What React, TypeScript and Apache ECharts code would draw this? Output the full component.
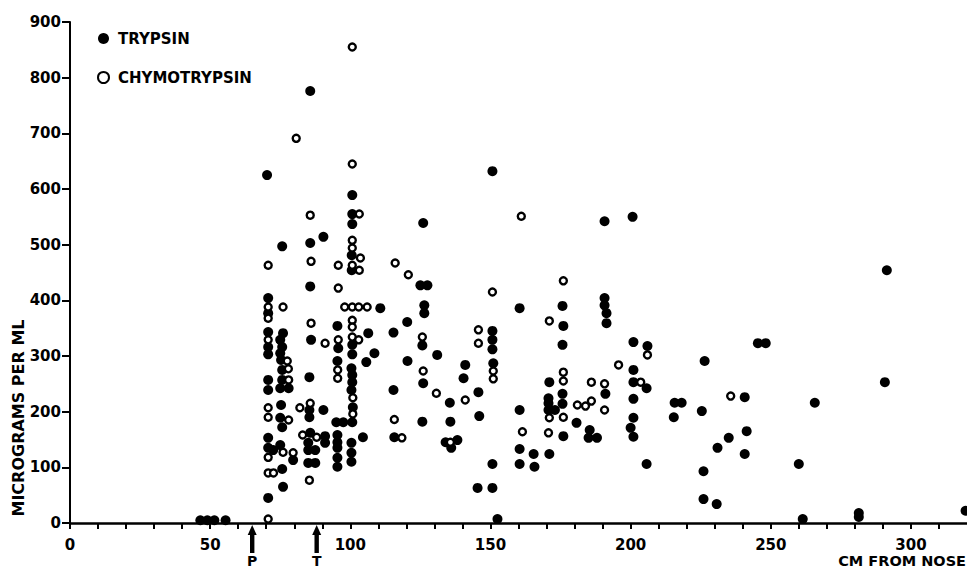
import React, { useEffect, useRef } from "react";
import * as echarts from "echarts";

// cm from nose, micrograms per ml
const trypsin: [number, number][] = [
  [46.5, 5], [49, 5], [51.5, 5], [55.5, 5],
  [70.3, 625], [70.7, 404], [70.7, 377], [70.7, 343], [70.7, 316], [70.7, 303], [70.7, 257], [70.7, 239], [70.7, 153], [70.7, 135], [70.7, 45],
  [76, 341], [75, 329], [75.7, 316], [75, 305], [75.3, 293], [75.7, 275], [75.7, 257], [75, 242], [78, 242], [75.3, 212], [75, 189], [75.7, 497], [75.7, 172], [72.5, 131], [75, 140], [75.7, 97], [76, 65],
  [85.7, 776], [90.4, 514], [85.7, 503], [85.7, 425], [86, 329], [85.4, 262], [85.4, 203], [85.4, 190], [90.4, 203], [85.7, 162], [91, 156], [91, 144], [85, 144], [85, 131], [87.5, 131], [85, 108], [87.5, 108], [79.6, 113],
  [95.4, 354], [95.7, 314], [95.4, 291], [95, 181], [97.5, 181], [100.7, 181], [95.4, 158], [95.4, 145], [95.4, 135], [95.4, 117], [95.4, 101],
  [100.7, 589], [100.7, 555], [100.7, 537], [100.5, 481], [100.5, 454], [100.7, 320], [100.7, 303], [100.4, 278], [100.7, 266], [100.7, 253], [100.4, 239], [100.9, 208], [100.4, 144], [100.4, 126], [100.4, 110], [104.5, 154], [106.4, 341], [108.6, 305], [105.7, 289], [110.7, 386],
  [115.4, 342], [120.3, 361], [120.4, 291], [115.4, 239], [115.7, 154], [125, 427], [127.5, 427], [126.4, 391], [126.4, 377], [125.7, 319], [126, 251], [125.7, 182], [126, 539], [131, 302], [135.5, 216], [135.7, 182], [134, 145], [138.2, 149], [136, 135], [141, 284], [140.4, 260], [145.7, 235], [146, 192], [145.4, 63], [150.7, 63], [150.7, 345], [150.7, 329], [150.7, 312], [151, 287], [150.7, 106], [152.5, 7], [150.7, 632],
  [190.7, 542], [200.7, 550], [160.4, 386], [175.7, 390], [176, 354], [190.7, 404], [190.7, 391], [191.4, 377], [191.4, 359], [175.7, 320], [201, 325], [206, 318], [201, 275], [171, 253], [201, 253], [205.7, 242], [170.7, 224], [170.7, 215], [170.7, 203], [173, 203], [175.7, 232], [175.7, 214], [191, 232], [201, 223], [201, 189], [180.7, 180], [185.4, 167], [185, 153], [188, 153], [200, 171], [201, 155], [176, 156], [160.4, 133], [165.4, 124], [171, 124], [160.4, 106], [165.7, 101], [205.7, 106], [160.4, 203],
  [226.4, 291], [245.4, 323], [248.2, 323], [215.7, 216], [218.2, 216], [215.4, 190], [225.4, 201], [240.7, 226], [241.4, 165], [235, 153], [231, 135], [240.7, 124], [226, 93], [226, 43], [230.7, 34], [260, 106], [291.4, 454], [290.7, 253], [265.7, 216], [261.4, 7], [281.4, 18], [281.4, 11], [319.5, 22],
];

const chymotrypsin: [number, number][] = [
  [70.7, 463], [70.7, 388], [70.7, 368], [70.7, 329], [70.7, 207], [70.7, 190], [70.7, 118], [70.7, 90], [70.7, 7],
  [76, 388], [77.5, 291], [77.9, 277], [78, 257], [78, 185], [76, 127], [72.6, 90],
  [80.7, 691], [85.7, 553], [86, 470], [86, 359], [91, 323], [82, 207], [85.7, 215], [83, 158], [88, 154], [79.6, 126], [85.4, 77],
  [95.7, 463], [95.7, 422], [95.7, 329], [95.5, 275], [95.5, 260], [100.7, 855], [100.7, 645], [103.2, 555], [100.7, 508], [100.7, 494], [103.6, 476], [100.7, 463], [103.2, 454], [98, 388], [100.7, 388], [103, 388], [106, 388], [100.7, 364], [100.7, 352], [100.7, 334], [103, 329], [100.9, 225], [100.9, 196],
  [116, 467], [120.7, 446], [115.7, 186], [118.4, 153], [125.7, 334], [126, 273], [130.7, 233], [135.7, 145], [141, 221], [145.7, 347], [145.7, 323], [150.7, 415], [151, 273], [151, 259],
  [161, 551], [176, 435], [171, 363], [206, 302], [195.7, 284], [176, 271], [176, 255], [186, 253], [190.7, 250], [203.6, 253], [181, 212], [183.9, 210], [186, 219], [171, 189], [176, 190], [190.7, 203], [161.4, 164], [170.7, 162],
  [235.7, 228],
];

const xLabelStep = 50;
const arrowMarks: { x: number; label: string }[] = [
  { x: 65, label: "P" },
  { x: 88, label: "T" },
];

const FONT = "DejaVu Sans";

export default function App() {
  const ref = useRef<HTMLDivElement>(null);
  useEffect(() => {
    const chart = echarts.init(ref.current!, null, { renderer: "svg" });
    chart.setOption({
      animation: false,
      backgroundColor: "#ffffff",
      grid: { left: 70, right: 0, top: 22, bottom: 45 },
      legend: {
        orient: "vertical",
        left: 92,
        top: 26,
        itemGap: 24,
        itemWidth: 11,
        itemHeight: 11,
        textStyle: { fontFamily: FONT, fontWeight: "bold", fontSize: 15, color: "#000", padding: [0, 0, 0, 4] },
        data: ["TRYPSIN", "CHYMOTRYPSIN"],
      },
      xAxis: {
        type: "value",
        min: 0,
        max: 320,
        interval: 10,
        axisLine: { lineStyle: { color: "#000", width: 2.5 } },
        axisTick: { length: 6, lineStyle: { color: "#000", width: 2 } },
        axisLabel: {
          margin: 15,
          color: "#000",
          fontFamily: FONT,
          fontWeight: "bold",
          fontSize: 15,
          lineHeight: 13,
          showMaxLabel: false,
          formatter: (v: number) => (v % xLabelStep === 0 ? String(v) : ""),
        },
        splitLine: { show: false },
      },
      yAxis: {
        type: "value",
        min: 0,
        max: 900,
        interval: 100,
        axisLine: { show: true, lineStyle: { color: "#000", width: 2 } },
        axisTick: { show: true, length: 8, lineStyle: { color: "#000", width: 2 } },
        axisLabel: { margin: 9, color: "#000", fontFamily: FONT, fontWeight: "bold", fontSize: 15 },
        splitLine: { show: false },
      },
      series: [
        {
          name: "TRYPSIN",
          type: "scatter",
          clip: false,
          symbol: "circle",
          symbolSize: 10,
          itemStyle: { color: "#000", opacity: 1 },
          data: trypsin,
        },
        {
          name: "CHYMOTRYPSIN",
          type: "scatter",
          clip: false,
          symbol: "circle",
          symbolSize: 7,
          itemStyle: { color: "#fff", borderColor: "#000", borderWidth: 2.4, opacity: 1 },
          data: chymotrypsin,
        },
      ],
    });

    const graphics: any[] = [
      {
        type: "text",
        x: 18,
        y: 418,
        rotation: Math.PI / 2,
        style: {
          text: "MICROGRAMS PER ML",
          fontFamily: FONT,
          fontWeight: "bold",
          fontSize: 16,
          fill: "#000",
          textAlign: "center",
          textVerticalAlign: "middle",
        },
      },
      {
        type: "text",
        x: 966,
        y: 567,
        style: {
          text: "CM FROM NOSE",
          fontFamily: FONT,
          fontWeight: "bold",
          fontSize: 14.5,
          lineHeight: 13,
          fill: "#000",
          textAlign: "right",
          textVerticalAlign: "bottom",
        },
      },
    ];
    arrowMarks.forEach((m) => {
      const p = chart.convertToPixel({ gridIndex: 0 }, [m.x, 0]) as number[];
      const px = p[0];
      const py = p[1];
      graphics.push({
        type: "polygon",
        shape: { points: [[px, py + 2], [px - 4.5, py + 12], [px + 4.5, py + 12]] },
        style: { fill: "#000" },
      });
      graphics.push({
        type: "rect",
        shape: { x: px - 2.2, y: py + 10, width: 4.4, height: 20 },
        style: { fill: "#000" },
      });
      graphics.push({
        type: "text",
        x: px,
        y: py + 38,
        style: {
          text: m.label,
          fontFamily: FONT,
          fontWeight: "bold",
          fontSize: 14,
          fill: "#000",
          textAlign: "center",
          textVerticalAlign: "middle",
        },
      });
    });
    chart.setOption({ graphic: graphics });

    return () => chart.dispose();
  }, []);
  return (
    <div
      ref={ref}
      style={{ position: "fixed", left: 0, top: 0, width: 967, height: 568, background: "#fff" }}
    />
  );
}
